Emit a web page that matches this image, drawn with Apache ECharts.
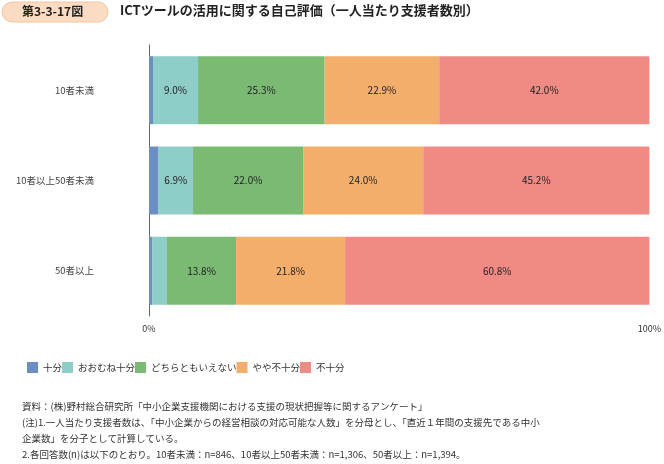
<!DOCTYPE html>
<html><head><meta charset="utf-8">
<script src="https://cdn.jsdelivr.net/npm/echarts@6/dist/echarts.min.js"></script>
<style>html,body{margin:0;padding:0;background:#fff}#main{width:664px;height:464px}</style>
</head><body><div id="main"></div>
<script>
var categories = ['10者未満', '10者以上50者未満', '50者以上'];
var seriesNames = ['十分', 'おおむね十分', 'どちらともいえない', 'やや不十分', '不十分'];
var colors = ['#6a8fc0', '#8fcdc9', '#7aba73', '#f4ae6b', '#ef8a84'];
var v1 = [0.8, 1.9, 0.7];
var v2 = [9.0, 6.9, 2.9];
var v3 = [25.3, 22.0, 13.8];
var v4 = [22.9, 24.0, 21.8];
var v5 = [42.0, 45.2, 60.8];
var values = [v1, v2, v3, v4, v5];

var font = '"Noto Sans CJK JP", sans-serif';
var myChart = echarts.init(document.getElementById('main'));

var series = [];
for (var i = 0; i < 5; i++) {
    series.push({
        name: seriesNames[i],
        type: 'bar',
        stack: 'total',
        barWidth: 68,
        data: values[i],
        itemStyle: {color: colors[i]},
        label: {
            show: true,
            color: '#222',
            fontSize: 10,
            fontFamily: font,
            formatter: function (p) { return p.value >= 5 ? p.value.toFixed(1) + '%' : ''; }
        }
    });
}

myChart.setOption({
    animation: false,
    grid: {left: 149, right: 4, top: 45, bottom: 148},
    xAxis: {
        type: 'value', min: 0, max: 100, interval: 100,
        splitLine: {show: false},
        axisLabel: {formatter: '{value}%', fontSize: 9, color: '#333', fontFamily: font}
    },
    yAxis: {
        type: 'category', inverse: true, data: categories,
        axisTick: {show: false},
        axisLine: {lineStyle: {color: '#666'}},
        axisLabel: {fontSize: 9.5, color: '#444', fontFamily: font, margin: 55}
    },
    legend: {
        left: 22, top: 357, itemWidth: 11, itemHeight: 11, itemGap: 0,
        icon: 'rect',
        textStyle: {fontSize: 9.5, color: '#333', fontFamily: font, width: 108},
        data: seriesNames
    },
    series: series,
    graphic: [
        {type: 'rect', shape: {x: 2, y: 2, width: 106, height: 20, r: 10},
         style: {fill: '#fbdcc2', stroke: '#f2c49e'}},
        {type: 'text', left: 22, top: 5,
         style: {text: '第3-3-17図', font: 'bold 12px ' + font, fill: '#222'}},
        {type: 'text', left: 120, top: 4,
         style: {text: 'ICTツールの活用に関する自己評価（一人当たり支援者数別）', font: 'bold 13px ' + font, fill: '#222'}},
        {type: 'text', left: 22, top: 398,
         style: {text: '資料：(株)野村総合研究所「中小企業支援機関における支援の現状把握等に関するアンケート」\n(注)1.一人当たり支援者数は、「中小企業からの経営相談の対応可能な人数」を分母とし、「直近１年間の支援先である中小\n企業数」を分子として計算している。\n2.各回答数(n)は以下のとおり。10者未満：n=846、10者以上50者未満：n=1,306、50者以上：n=1,394。',
                font: '9.5px ' + font, fill: '#333', lineHeight: 16}}
    ]
});
</script></body></html>
